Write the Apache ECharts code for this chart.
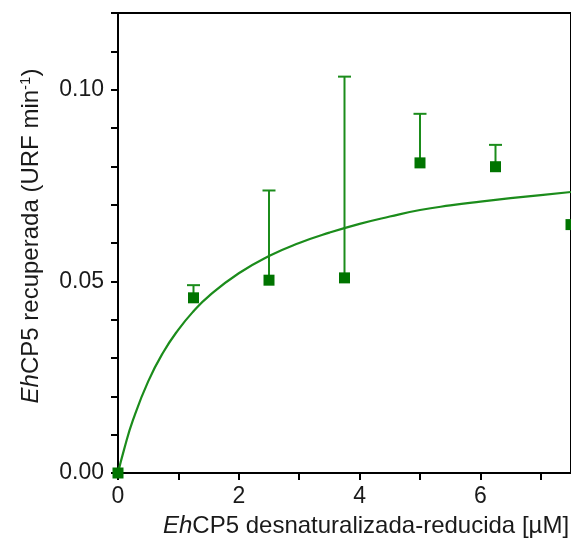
<!DOCTYPE html>
<html>
<head>
<meta charset="utf-8">
<style>
html,body{margin:0;padding:0;background:#fff;}
#chart{width:571px;height:541px;}
</style>
<script src="https://cdn.jsdelivr.net/npm/echarts@6/dist/echarts.min.js"></script>
</head>
<body>
<div id="chart"></div>
<script>
// concentrations (µM)
var concentrations = [0, 1.25, 2.5, 3.75, 5, 6.25, 7.5];
// recovered activity means (URF min^-1)
var meanValues = [0, 0.0457, 0.0503, 0.0509, 0.0809, 0.0799, 0.0648];
// upper end of the error bars (null = no bar visible)
var upperErrors = [null, 0.0490, 0.0737, 0.1034, 0.0937, 0.0856, null];
// fitted curve, points
var curveX = [0, 0.1, 0.25, 0.5, 0.75, 1, 1.25, 1.5, 2, 2.5, 3, 3.5, 4, 4.5, 5, 5.5, 6, 6.5, 7, 7.5];
var curveY = [0, 0.0061, 0.0139, 0.0239, 0.0315, 0.0374, 0.0422, 0.0461, 0.0521, 0.0566, 0.0600, 0.0627, 0.0650, 0.0669, 0.0686, 0.0698, 0.0708, 0.0717, 0.0725, 0.0733];
// tick labels
var xTickLabels = {0: '0', 2: '2', 4: '4', 6: '6'};
var yTickLabels = {0: '0.00', 5: '0.05', 10: '0.10'};

var green = '#1b8c1b';
var markerGreen = '#007400';
var textColor = '#1a1a1a';
var font = 'Liberation Sans, Arial, sans-serif';

var points = concentrations.map(function (x, i) { return [x, meanValues[i]]; });
var errData = [];
concentrations.forEach(function (x, i) {
  if (upperErrors[i] !== null) errData.push([x, meanValues[i], upperErrors[i]]);
});
var curve = curveX.map(function (x, i) { return [x, curveY[i]]; });

var chart = echarts.init(document.getElementById('chart'));
chart.setOption({
  animation: false,
  backgroundColor: '#fff',
  grid: {left: 118, top: 13, width: 455, height: 460, show: true, borderColor: '#000', borderWidth: 2, backgroundColor: 'transparent'},
  xAxis: {
    type: 'value', min: 0, max: 7.5, interval: 1,
    axisLine: {show: true, onZero: false, lineStyle: {color: '#000', width: 2}},
    axisTick: {show: true, inside: false, length: 7, lineStyle: {color: '#000', width: 2}},
    splitLine: {show: false},
    axisLabel: {
      margin: 12, color: textColor, fontSize: 23, fontFamily: font, showMaxLabel: false,
      formatter: function (v) { var k = Math.round(v); return xTickLabels[k] !== undefined && Math.abs(v - k) < 1e-6 ? xTickLabels[k] : ''; }
    }
  },
  yAxis: {
    type: 'value', min: 0, max: 0.12, interval: 0.01,
    axisLine: {show: true, onZero: false, lineStyle: {color: '#000', width: 2}},
    axisTick: {show: true, inside: false, length: 7, lineStyle: {color: '#000', width: 2}},
    splitLine: {show: false},
    axisLabel: {
      margin: 14, color: textColor, fontSize: 23, fontFamily: font,
      formatter: function (v) { var k = Math.round(v * 100); return yTickLabels[k] !== undefined ? yTickLabels[k] : ''; }
    }
  },
  graphic: [
    {
      type: 'text', left: 163, top: 514,
      style: {
        text: '{i|Eh}CP5 desnaturalizada-reducida [µM]',
        font: '24px ' + font, fill: textColor,
        rich: {i: {fontStyle: 'italic', fontSize: 24, fontFamily: font, fill: textColor}}
      }
    },
    {
      type: 'text', x: 31, y: 236, rotation: Math.PI / 2,
      style: {
        text: '{i|Eh}CP5 recuperada (URF min{s|-1})',
        font: '24px ' + font, fill: textColor, align: 'center', verticalAlign: 'middle',
        rich: {
          i: {fontStyle: 'italic', fontSize: 24, fontFamily: font, fill: textColor},
          s: {fontSize: 15, fontFamily: font, fill: textColor, verticalAlign: 'top', padding: [0, 0, 11, 0]}
        }
      }
    }
  ],
  series: [
    {
      type: 'line', data: curve, smooth: true, showSymbol: false, symbol: 'none',
      lineStyle: {color: green, width: 2.2}, z: 2
    },
    {
      type: 'custom', data: errData, z: 3,
      renderItem: function (params, api) {
        var base = api.coord([api.value(0), api.value(1)]);
        var top = api.coord([api.value(0), api.value(2)]);
        var half = 6.5;
        return {
          type: 'group',
          children: [
            {type: 'line', shape: {x1: base[0], y1: base[1], x2: top[0], y2: top[1]}, style: {stroke: green, lineWidth: 2}},
            {type: 'line', shape: {x1: top[0] - half, y1: top[1], x2: top[0] + half, y2: top[1]}, style: {stroke: green, lineWidth: 2}}
          ]
        };
      }
    },
    {
      type: 'scatter', data: points, symbol: 'rect', symbolSize: 11, clip: false,
      itemStyle: {color: markerGreen, opacity: 1}, z: 4
    }
  ]
});
</script>
</body>
</html>
